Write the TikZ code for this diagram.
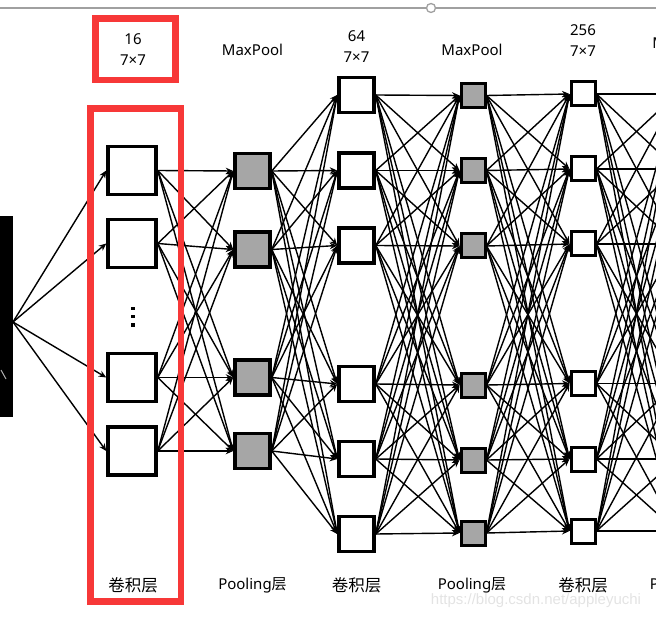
\documentclass[tikz,border=0pt]{standalone}
\usepackage{fontspec}
\setmainfont{Noto Sans}
\newfontfamily\cjk{Noto Sans CJK SC}
\newfontfamily\markfont{Liberation Sans}
\usetikzlibrary{arrows.meta}
\definecolor{framered}{RGB}{247,56,56}
\definecolor{poolgray}{RGB}{166,166,166}
\definecolor{framegray}{RGB}{160,160,160}
\tikzstyle{edge}=[line width=1.4pt, -{Stealth[length=7.5pt,width=6.5pt]}]
\tikzstyle{bigconv}=[rectangle, fill=white, draw, line width=3.5pt,
                     minimum size=48pt, inner sep=0pt]
\tikzstyle{bigpool}=[rectangle, fill=poolgray, draw, line width=3.5pt,
                     minimum size=35pt, inner sep=0pt]
\tikzstyle{midconv}=[bigpool, fill=white]
\tikzstyle{smallpool}=[rectangle, fill=poolgray, draw, line width=3pt,
                       minimum size=24pt, inner sep=0pt]
\tikzstyle{smallconv}=[smallpool, fill=white]
\tikzstyle{redframe}=[draw=framered, line width=6.5pt]
\tikzstyle{caption}=[font=\fontsize{15}{21}\selectfont, align=center]
\tikzstyle{cncaption}=[font=\cjk\fontsize{16.5}{20}\selectfont]

\begin{document}
\begin{tikzpicture}[x=1pt,y=-1pt]
    \useasboundingbox (0,0) rectangle (656,620);
    \clip (0,0) rectangle (656,620);

    % window edge
    \draw [line width=1.3pt, framegray] (0,8) -- (656,8);
    \draw [line width=1.3pt, framegray, fill=white] (431,8) circle (4.5);

    % input picture
    \fill [black] (0,216) rectangle (13,417);
    \draw [line width=1pt, gray!60] (1,370) -- (6,379);
    \coordinate (in) at (13,322);

    % layer 1: conv 16
    \node (c1a) at (132,170.5) [bigconv]{};
    \node (c1b) at (132,243.5) [bigconv]{};
    \node (c1c) at (132,377.5) [bigconv]{};
    \node (c1d) at (132,451)   [bigconv]{};
    \foreach \y in {308.5,316.5,325}
      \fill (131.2,\y-1.8) rectangle +(3.6,3.6);

    % layer 2: pooling
    \node (p1a) at (252.5,171)   [bigpool]{};
    \node (p1b) at (252.5,249.5) [bigpool]{};
    \node (p1c) at (252.5,377.5) [bigpool]{};
    \node (p1d) at (252.5,451)   [bigpool]{};

    % layer 3: conv 64
    \node (c2a) at (356.5,95)    [midconv]{};
    \node (c2b) at (356.5,170.5) [midconv]{};
    \node (c2c) at (356.5,245.5) [midconv]{};
    \node (c2d) at (356.5,384)   [midconv]{};
    \node (c2e) at (356.5,459)   [midconv]{};
    \node (c2f) at (356.5,534)   [midconv]{};

    % layer 4: pooling
    \node (p2a) at (473,95.5)  [smallpool]{};
    \node (p2b) at (473,170.5) [smallpool]{};
    \node (p2c) at (473,246)   [smallpool]{};
    \node (p2d) at (473,385)   [smallpool]{};
    \node (p2e) at (473,460)   [smallpool]{};
    \node (p2f) at (473,533)   [smallpool]{};

    % layer 5: conv 256
    \node (c3a) at (583,94)    [smallconv]{};
    \node (c3b) at (583,169)   [smallconv]{};
    \node (c3c) at (583,244)   [smallconv]{};
    \node (c3d) at (583,383.5) [smallconv]{};
    \node (c3e) at (583,459)   [smallconv]{};
    \node (c3f) at (583,531)   [smallconv]{};

    % layer 6: pooling, cut off at the right
    \node (p3a) at (690,94)    [smallpool]{};
    \node (p3b) at (690,169)   [smallpool]{};
    \node (p3c) at (690,244)   [smallpool]{};
    \node (p3d) at (690,383.5) [smallpool]{};
    \node (p3e) at (690,459)   [smallpool]{};
    \node (p3f) at (690,531)   [smallpool]{};

    \foreach \v in {c1a,c1b,c1c,c1d}
      \draw [edge] (in) -- (\v.west);
    \foreach \u in {c1a,c1b,c1c,c1d}
      \foreach \v in {p1a,p1b,p1c,p1d}
        \draw [edge] (\u.east) -- (\v.west);
    \foreach \u in {p1a,p1b,p1c,p1d}
      \foreach \v in {c2a,c2b,c2c,c2d,c2e,c2f}
        \draw [edge] (\u.east) -- (\v.west);
    \foreach \u in {c2a,c2b,c2c,c2d,c2e,c2f}
      \foreach \v in {p2a,p2b,p2c,p2d,p2e,p2f}
        \draw [edge] (\u.east) -- (\v.west);
    \foreach \u in {p2a,p2b,p2c,p2d,p2e,p2f}
      \foreach \v in {c3a,c3b,c3c,c3d,c3e,c3f}
        \draw [edge] (\u.east) -- (\v.west);
    \foreach \u in {c3a,c3b,c3c,c3d,c3e,c3f}
      \foreach \v in {p3a,p3b,p3c,p3d,p3e,p3f}
        \draw [edge] (\u.east) -- (\v.west);

    % top labels
    \node (t1) at (133,50)   [caption]{16\\7×7};
    \node (t2) at (252.5,50) [caption]{MaxPool};
    \node (t3) at (356.5,47) [caption]{64\\7×7};
    \node (t4) at (472,50)   [caption]{MaxPool};
    \node (t5) at (583,41)   [caption]{256\\7×7};
    \node (t6) at (683,43)   [caption]{MaxPool};

    % bottom labels
    \node (b1) at (133,585)  [cncaption]{卷积层};
    \node (b2) at (252.5,585)[caption]{Pooling{\cjk 层}};
    \node (b3) at (356.5,585)[cncaption]{卷积层};
    \node (b4) at (472,585)  [caption]{Pooling{\cjk 层}};
    \node (b5) at (583,585)  [cncaption]{卷积层};
    \node (b6) at (684,585)  [caption]{Pooling{\cjk 层}};

    % highlight frames
    \draw [redframe] (95.5,18.5) rectangle (175.5,80);
    \draw [redframe] (90.5,108.5) rectangle (181,601.5);

    \node (mark) at (536,601) [font=\markfont\fontsize{15}{15}\selectfont,
                               text=gray!22]{https://blog.csdn.net/appleyuchi};
\end{tikzpicture}
\end{document}
